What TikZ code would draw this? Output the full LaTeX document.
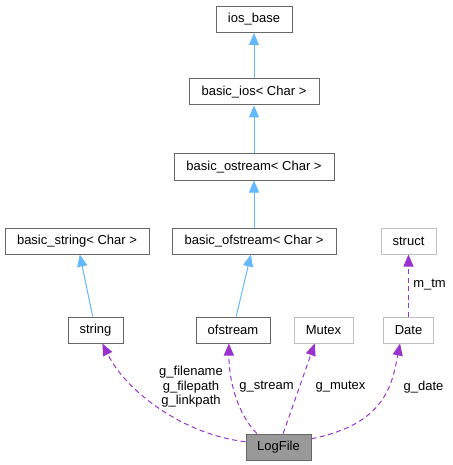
\documentclass[tikz,border=0pt]{standalone}
\usepackage{fontspec}
\setmainfont{Liberation Sans}
\usetikzlibrary{arrows.meta}
\definecolor{inhblue}{HTML}{63B8FF}
\definecolor{usepurple}{HTML}{9A32CD}
\definecolor{boxgray}{HTML}{666666}
\definecolor{undocgray}{HTML}{BFBFBF}
\definecolor{mainfill}{HTML}{999999}

\begin{document}
\begin{tikzpicture}[
    x=1pt, y=-1pt,
    font=\fontsize{13}{14.5}\selectfont,
    cls/.style={draw=boxgray, line width=1pt, minimum height=26pt, inner sep=0pt},
    ext/.style={cls, draw=undocgray},
    main/.style={cls, fill=mainfill},
    inherit/.style={-{Triangle[length=12pt, width=10pt]}, color=inhblue, line width=1pt},
    uses/.style={-{Triangle[length=12pt, width=10pt]}, color=usepurple, line width=1pt, dash pattern=on 5pt off 3.5pt},
    lbl/.style={inner sep=0pt, align=center}
]
\useasboundingbox (0,0) rectangle (452,465);

% class boxes
\node[cls, minimum width=76pt]  (iosbase)       at (254,19.5)   {ios\_base};
\node[cls, minimum width=130pt] (basicios)      at (254,92)     {basic\_ios< Char >};
\node[cls, minimum width=160pt] (basicostream)  at (254,167)    {basic\_ostream< Char >};
\node[cls, minimum width=164pt] (basicofstream) at (254,241)    {basic\_ofstream< Char >};
\node[cls, minimum width=144pt] (basicstring)   at (77,241)     {basic\_string< Char >};
\node[ext, minimum width=55pt]  (struct)        at (408.5,241)  {struct};
\node[cls, minimum width=55pt]  (string)        at (95.5,330)   {string};
\node[cls, minimum width=74pt]  (ofstream)      at (233,330)    {ofstream};
\node[ext, minimum width=59pt]  (mutex)         at (323.5,330)  {Mutex};
\node[ext, minimum width=50pt]  (date)          at (408.5,330)  {Date};
\node[main, minimum width=65pt] (logfile)       at (278.5,447)  {LogFile};

% inheritance
\draw[inherit] (basicios) -- (iosbase);
\draw[inherit] (basicostream) -- (basicios);
\draw[inherit] (basicofstream) -- (basicostream);
\draw[inherit] (string) -- (basicstring);
\draw[inherit] (ofstream) -- (basicofstream);

% members
\draw[uses] (logfile.171) .. controls +(-60,-7) and +(25,50) .. (string.-63);
\draw[uses] (logfile.148) .. controls +(-18,-18) and +(0,40) .. (ofstream.-107);
\draw[uses] (logfile.71) -- (mutex.-123);
\draw[uses] (logfile.14) .. controls +(75,-15) and +(-8,40) .. (date.-122);
\draw[uses] (date) -- (struct);

\node[lbl] (lblstring) at (191,387)   {g\_filename\\g\_filepath\\g\_linkpath};
\node[lbl] (lblstream) at (266.5,387) {g\_stream};
\node[lbl] (lblmutex)  at (340.5,387) {g\_mutex};
\node[lbl] (lbldate)   at (423.5,387) {g\_date};
\node[lbl] (lbltm)     at (429.5,285) {m\_tm};

\end{tikzpicture}
\end{document}
